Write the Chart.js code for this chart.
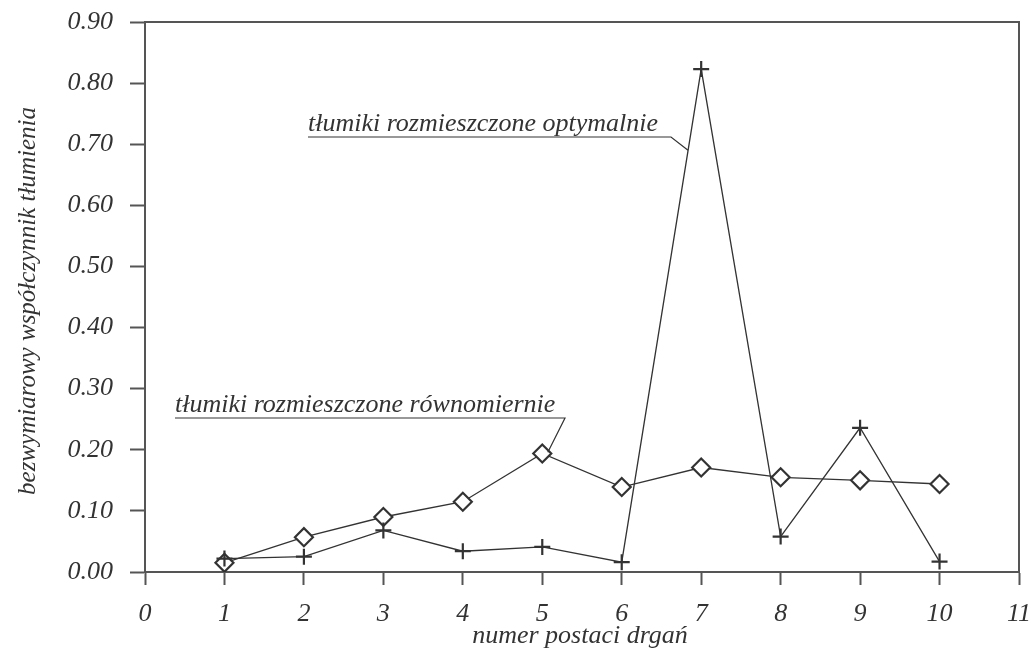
<!DOCTYPE html>
<html>
<head>
<meta charset="utf-8">
<script src="https://cdn.jsdelivr.net/npm/chart.js@4/dist/chart.umd.min.js"></script>
<style>
  body { margin: 0; background: #fff; }
  canvas { display: block; }
</style>
</head>
<body>
<canvas id="chart" width="1031" height="651"></canvas>
<script>
const modes = [1, 2, 3, 4, 5, 6, 7, 8, 9, 10];
const uniform = [0.015, 0.057, 0.090, 0.115, 0.194, 0.139, 0.171, 0.155, 0.150, 0.144];
const optimal = [0.022, 0.025, 0.068, 0.034, 0.041, 0.016, 0.823, 0.058, 0.236, 0.017];

const xTitle = "numer postaci drgań";
const yTitle = "bezwymiarowy współczynnik tłumienia";
const labelOptimal = "tłumiki rozmieszczone optymalnie";
const labelUniform = "tłumiki rozmieszczone równomiernie";

const ink = "#333";
const serif = "'Liberation Serif', 'Times New Roman', serif";

function toPoints(ys) {
  return modes.map((m, i) => ({ x: m, y: ys[i] }));
}

// keep label overflow from pushing the plot area around
function noOverflow(scale) {
  scale.paddingTop = 0;
  scale.paddingBottom = 0;
  scale.paddingLeft = 0;
  scale.paddingRight = 0;
}

// frame, axis titles and the two callout labels
const decorations = {
  id: "decorations",
  afterDraw(chart) {
    const ctx = chart.ctx;
    const xs = chart.scales.x;
    const ys = chart.scales.y;
    const a = chart.chartArea;

    ctx.save();
    ctx.strokeStyle = "#555";
    ctx.lineWidth = 2;
    ctx.beginPath();
    ctx.moveTo(a.left, a.top);
    ctx.lineTo(a.right, a.top);
    ctx.lineTo(a.right, a.bottom);
    ctx.stroke();

    ctx.fillStyle = ink;
    ctx.font = "italic 26px " + serif;
    ctx.textAlign = "center";
    ctx.textBaseline = "alphabetic";
    ctx.fillText(xTitle, 580, 643);

    ctx.save();
    ctx.font = "italic 25px " + serif;
    ctx.translate(35, 301);
    ctx.rotate(-Math.PI / 2);
    ctx.fillText(yTitle, 0, 0);
    ctx.restore();

    // callouts: text, underline, leader to the series line
    const callouts = [
      { text: labelOptimal, x: 308, y: 131, lineY: 137, lineEnd: 671, to: { x: 6.834, y: 0.69 } },
      { text: labelUniform, x: 175, y: 412, lineY: 418, lineEnd: 565, to: { x: 5.07, y: 0.196 } }
    ];
    ctx.textAlign = "left";
    ctx.lineWidth = 1.2;
    ctx.strokeStyle = ink;
    callouts.forEach(c => {
      ctx.fillText(c.text, c.x, c.y);
      ctx.beginPath();
      ctx.moveTo(c.x, c.lineY);
      ctx.lineTo(c.lineEnd, c.lineY);
      ctx.lineTo(xs.getPixelForValue(c.to.x), ys.getPixelForValue(c.to.y));
      ctx.stroke();
    });
    ctx.restore();
  }
};

function draw() {
  new Chart(document.getElementById("chart"), {
    type: "scatter",
    data: {
      datasets: [
        {
          label: labelOptimal,
          data: toPoints(optimal),
          showLine: true,
          borderColor: ink,
          borderWidth: 1.3,
          pointStyle: "cross",
          pointRadius: 8,
          pointBorderWidth: 2.2,
          pointBorderColor: ink,
          tension: 0
        },
        {
          label: labelUniform,
          data: toPoints(uniform),
          showLine: true,
          borderColor: ink,
          borderWidth: 1.3,
          pointStyle: "rectRot",
          pointRadius: 9,
          pointBorderWidth: 2.2,
          pointBorderColor: ink,
          pointBackgroundColor: "#fff",
          tension: 0
        }
      ]
    },
    options: {
      responsive: false,
      animation: false,
      layout: { padding: { top: 22, right: 12, left: 0, bottom: 0 } },
      plugins: {
        legend: { display: false },
        tooltip: { enabled: false }
      },
      scales: {
        x: {
          type: "linear",
          min: 0,
          max: 11,
          afterFit(scale) { scale.height = 79; noOverflow(scale); },
          ticks: {
            stepSize: 1,
            color: ink,
            padding: 14,
            font: { family: serif, size: 26, style: "italic" }
          },
          grid: {
            drawOnChartArea: false,
            drawTicks: true,
            tickLength: 13,
            tickWidth: 2,
            tickColor: "#555"
          },
          border: { color: "#555", width: 2 }
        },
        y: {
          type: "linear",
          min: 0,
          max: 0.9,
          afterFit(scale) { scale.width = 145; noOverflow(scale); },
          afterBuildTicks(scale) {
            const t = [];
            for (let i = 0; i <= 18; i++) t.push({ value: i * 0.05 });
            scale.ticks = t;
          },
          ticks: {
            color: ink,
            padding: 17,
            font: { family: serif, size: 26, style: "italic" },
            callback(v) {
              const k = Math.round(v * 100);
              return k % 10 === 0 ? (k / 100).toFixed(2) : "";
            }
          },
          grid: {
            drawOnChartArea: false,
            drawTicks: true,
            tickLength: 15,
            tickWidth: 2,
            tickColor: "#555"
          },
          border: { color: "#555", width: 2 }
        }
      }
    },
    plugins: [decorations]
  });
}

document.fonts.load("italic 26px 'Liberation Serif'").then(draw, draw);
</script>
</body>
</html>
